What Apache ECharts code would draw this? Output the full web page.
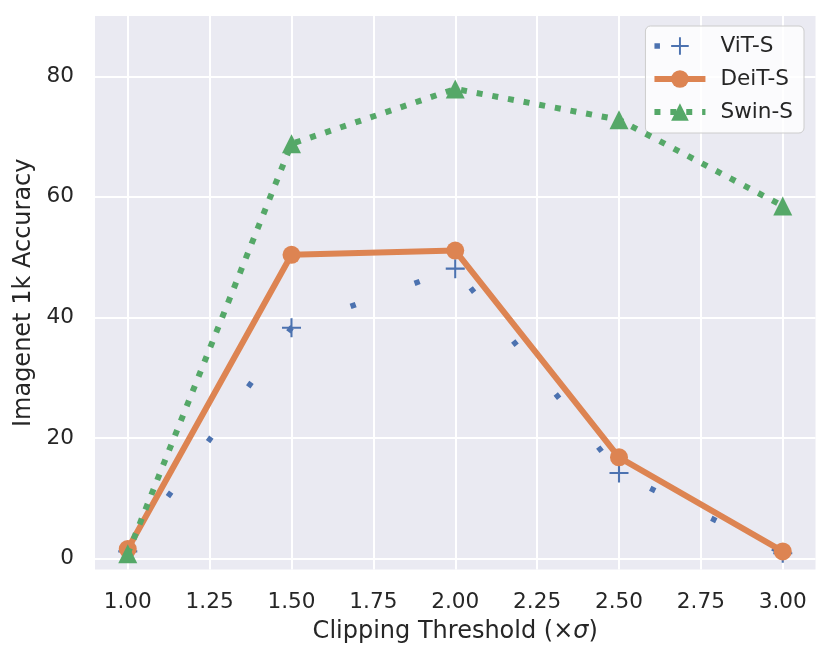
<!DOCTYPE html>
<html><head><meta charset="utf-8">
<script src="https://cdn.jsdelivr.net/npm/echarts@6/dist/echarts.min.js"></script>
<style>html,body{margin:0;padding:0;background:#fff}#c{width:830px;height:664px}</style>
</head><body><div id="c"></div>
<script>
const thresholds = [1.0, 1.5, 2.0, 2.5, 3.0];
const vitS = [1.2, 38.3, 48.1, 14.2, 0.9];
const deitS = [1.6, 50.4, 51.1, 16.8, 1.2];
const swinS = [0.8, 68.8, 77.9, 72.8, 58.5];
const xTicks = [1.0, 1.25, 1.5, 1.75, 2.0, 2.25, 2.5, 2.75, 3.0];
const yTicks = [0, 20, 40, 60, 80];

const pair = arr => thresholds.map((x, i) => [x, arr[i]]);
const FONT = 'DejaVu Sans';
const TXT = '#262626';
const plus = 'path://M-1,-9 L1,-9 L1,-1 L9,-1 L9,1 L1,1 L1,9 L-1,9 L-1,1 L-9,1 L-9,-1 L-1,-1 Z';

const chart = echarts.init(document.getElementById('c'), null, {renderer: 'canvas'});
chart.setOption({
  animation: false,
  backgroundColor: '#fff',
  textStyle: {fontFamily: FONT},
  grid: {left: 95, right: 14.5, top: 16, bottom: 94.5, show: true, backgroundColor: '#EAEAF2', borderWidth: 0},
  legend: {
    right: 26, top: 26, orient: 'vertical',
    itemWidth: 51, itemHeight: 22, itemGap: 11,
    padding: [9, 11, 10, 6],
    backgroundColor: 'rgba(255,255,255,0.8)', borderColor: '#cccccc', borderWidth: 1, borderRadius: 5,
    lineStyle: {width: 'inherit'},
    textStyle: {fontFamily: FONT, fontSize: 21.6, color: TXT, padding: [0, 0, 0, 10]},
    data: ['ViT-S', 'DeiT-S', 'Swin-S']
  },
  xAxis: {
    type: 'value', min: 0.9, max: 3.1,
    name: 'Clipping Threshold (×{i|σ})', nameLocation: 'middle', nameGap: 50,
    nameTextStyle: {fontFamily: FONT, fontSize: 24, color: TXT, rich: {i: {fontFamily: FONT, fontSize: 24, fontStyle: 'italic', color: TXT}}},
    axisLine: {show: false},
    axisTick: {show: false, customValues: xTicks},
    axisLabel: {customValues: xTicks, fontFamily: FONT, fontSize: 21.6, color: TXT, margin: 22, formatter: v => v.toFixed(2)},
    splitLine: {show: true, lineStyle: {color: '#ffffff', width: 2}}
  },
  yAxis: {
    type: 'value', min: -1.8, max: 90,
    name: 'Imagenet 1k Accuracy', nameLocation: 'middle', nameGap: 54, nameRotate: 90,
    nameTextStyle: {fontFamily: FONT, fontSize: 24, color: TXT},
    axisLine: {show: false},
    axisTick: {show: false, customValues: yTicks},
    axisLabel: {customValues: yTicks, fontFamily: FONT, fontSize: 21.6, color: TXT, margin: 21},
    splitLine: {show: true, lineStyle: {color: '#ffffff', width: 2}}
  },
  series: [
    {
      name: 'ViT-S', type: 'line', data: pair(vitS), z: 2,
      symbol: plus, symbolSize: 19,
      itemStyle: {color: '#4C72B0'},
      lineStyle: {color: '#4C72B0', width: 5.5, type: [5.5, 62.5], cap: 'butt'}
    },
    {
      name: 'DeiT-S', type: 'line', data: pair(deitS), z: 3,
      symbol: 'circle', symbolSize: 18,
      itemStyle: {color: '#DD8452'},
      lineStyle: {color: '#DD8452', width: 6}
    },
    {
      name: 'Swin-S', type: 'line', data: pair(swinS), z: 4,
      symbol: 'triangle', symbolSize: 19,
      itemStyle: {color: '#55A868'},
      lineStyle: {color: '#55A868', width: 6, type: [6, 9.9], cap: 'butt'}
    }
  ]
});
</script></body></html>
